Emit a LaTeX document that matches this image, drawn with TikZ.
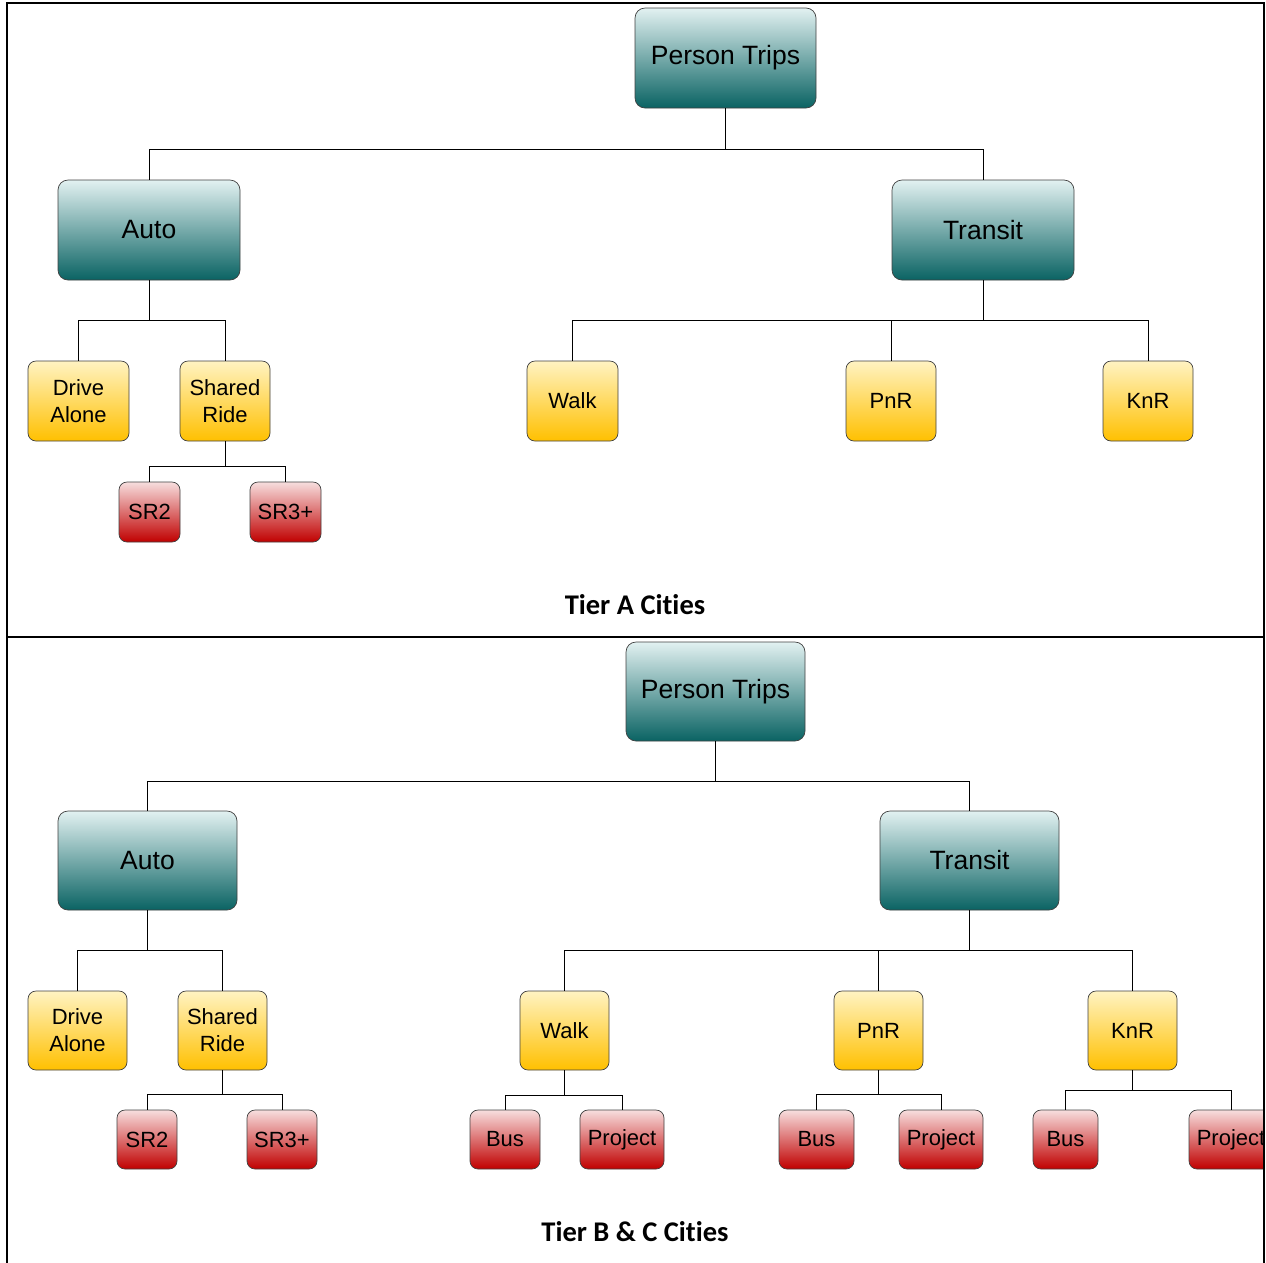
\documentclass[tikz,border=0pt]{standalone}
\usepackage{fontspec}
\setmainfont{Liberation Sans}
\newfontfamily\titlefont[Ligatures=NoCommon]{Carlito}
\usetikzlibrary{calc}
\definecolor{tealtop}{HTML}{E2F1F1}
\definecolor{tealbot}{HTML}{0A6363}
\definecolor{yeltop}{HTML}{FFF3C2}
\definecolor{yelbot}{HTML}{FFC000}
\definecolor{redtop}{HTML}{F7DEDE}
\definecolor{redbot}{HTML}{C00000}
\tikzset{
  box/.style={draw=black!75, line width=0.7pt, inner sep=0pt, align=center, text=black},
  bigbox/.style={box, rounded corners=10pt, top color=tealtop, bottom color=tealbot, minimum width=181pt, minimum height=100pt, font=\fontsize{26.5}{30}\selectfont},
  midbox/.style={box, rounded corners=8pt, top color=yeltop, bottom color=yelbot, minimum width=90pt, minimum height=80pt, font=\fontsize{22}{27}\selectfont},
  smallbox/.style={box, rounded corners=8pt, top color=redtop, bottom color=redbot, minimum width=61pt, minimum height=60pt, font=\fontsize{22}{27}\selectfont},
  conn/.style={draw=black, line width=0.8pt},
  frame/.style={draw=black, line width=2pt},
  title/.style={font=\titlefont\bfseries\fontsize{28.5}{31}\selectfont}
}
\begin{document}
\begin{tikzpicture}[x=1pt,y=-1pt]
\useasboundingbox (0,0) rectangle (1266,1262);
% ---------- Tier A ----------
\node[bigbox] (ptA) at (725.5,58) {Person Trips};
\node[bigbox, minimum width=182pt] (autoA) at (149,230) {Auto};
\node[bigbox, minimum width=182pt] (transitA) at (983,230) {Transit};
\node[midbox, minimum width=101pt] (daA) at (78.5,401) {Drive\\Alone};
\node[midbox] (srA) at (225,401) {Shared\\Ride};
\node[midbox, minimum width=91pt] (walkA) at (572.5,401) {Walk};
\node[midbox] (pnrA) at (891,401) {PnR};
\node[midbox] (knrA) at (1148,401) {KnR};
\node[smallbox] (sr2A) at (149.5,512) {SR2};
\node[smallbox, minimum width=71pt] (sr3A) at (285.5,512) {SR3+};
\node[title] (tA) at (635,605) {Tier A Cities};

\coordinate (jA1) at (725.5,149);
\draw[conn] (ptA.south) -- (jA1) -| (autoA.north);
\draw[conn] (jA1) -| (transitA.north);
\coordinate (jA2) at (149,320);
\draw[conn] (autoA.south) -- (jA2) -| (daA.north);
\draw[conn] (jA2) -| (srA.north);
\coordinate (jA3) at (983,320);
\draw[conn] (transitA.south) -- (jA3) -| (walkA.north);
\draw[conn] (jA3) -| (knrA.north);
\draw[conn] (jA3) -| (pnrA.north);
\coordinate (jA4) at (225,466);
\draw[conn] (srA.south) -- (jA4) -| (sr2A.north);
\draw[conn] (jA4) -| (sr3A.north);

% ---------- Tier B & C ----------
\node[bigbox, minimum width=179pt, minimum height=99pt] (ptB) at (715.5,691.5) {Person Trips};
\node[bigbox, minimum width=179pt, minimum height=99pt] (autoB) at (147.5,860.5) {Auto};
\node[bigbox, minimum width=179pt, minimum height=99pt] (transitB) at (969.5,860.5) {Transit};
\node[midbox, minimum width=99pt, minimum height=79pt] (daB) at (77.5,1030.5) {Drive\\Alone};
\node[midbox, minimum width=89pt, minimum height=79pt] (srB) at (222.5,1030.5) {Shared\\Ride};
\node[midbox, minimum width=89pt, minimum height=79pt] (walkB) at (564.5,1030.5) {Walk};
\node[midbox, minimum width=89pt, minimum height=79pt] (pnrB) at (878.5,1030.5) {PnR};
\node[midbox, minimum width=89pt, minimum height=79pt] (knrB) at (1132.5,1030.5) {KnR};
\node[smallbox, minimum width=60pt, minimum height=59pt] (sr2B) at (147,1139.5) {SR2};
\node[smallbox, minimum width=70pt, minimum height=59pt] (sr3B) at (282,1139.5) {SR3+};
\node[smallbox, minimum width=70pt, minimum height=59pt] (busW) at (505,1139.5) {Bus};
\node[smallbox, minimum width=84pt, minimum height=59pt] (prjW) at (622,1139.5) {Project};
\node[smallbox, minimum width=75pt, minimum height=59pt] (busP) at (816.5,1139.5) {Bus};
\node[smallbox, minimum width=84pt, minimum height=59pt] (prjP) at (941,1139.5) {Project};
\node[smallbox, minimum width=65pt, minimum height=59pt] (busK) at (1065.5,1139.5) {Bus};
\node[smallbox, minimum width=84pt, minimum height=59pt] (prjK) at (1231,1139.5) {Project};
\node[title] (tB) at (635,1232) {Tier B \& C Cities};

\coordinate (jB1) at (715.5,781);
\draw[conn] (ptB.south) -- (jB1) -| (autoB.north);
\draw[conn] (jB1) -| (transitB.north);
\coordinate (jB2) at (147.5,950);
\draw[conn] (autoB.south) -- (jB2) -| (daB.north);
\draw[conn] (jB2) -| (srB.north);
\coordinate (jB3) at (969.5,950);
\draw[conn] (transitB.south) -- (jB3) -| (walkB.north);
\draw[conn] (jB3) -| (knrB.north);
\draw[conn] (jB3) -| (pnrB.north);
\coordinate (jB4) at (222.5,1094);
\draw[conn] (srB.south) -- (jB4) -| (sr2B.north);
\draw[conn] (jB4) -| (sr3B.north);
\coordinate (jB5) at (564.5,1095);
\draw[conn] (walkB.south) -- (jB5) -| (busW.north);
\draw[conn] (jB5) -| (prjW.north);
\coordinate (jB6) at (878.5,1094);
\draw[conn] (pnrB.south) -- (jB6) -| (busP.north);
\draw[conn] (jB6) -| (prjP.north);
\coordinate (jB7) at (1132.5,1090);
\draw[conn] (knrB.south) -- (jB7) -| (busK.north);
\draw[conn] (jB7) -| (prjK.north);

% ---------- frame ----------
\fill[white] (1265,0) rectangle (1290,1262);
\draw[frame] (7,1263) -- (7,3) -- (1264,3) -- (1264,1263);
\draw[frame] (7,637) -- (1264,637);
\end{tikzpicture}
\end{document}
